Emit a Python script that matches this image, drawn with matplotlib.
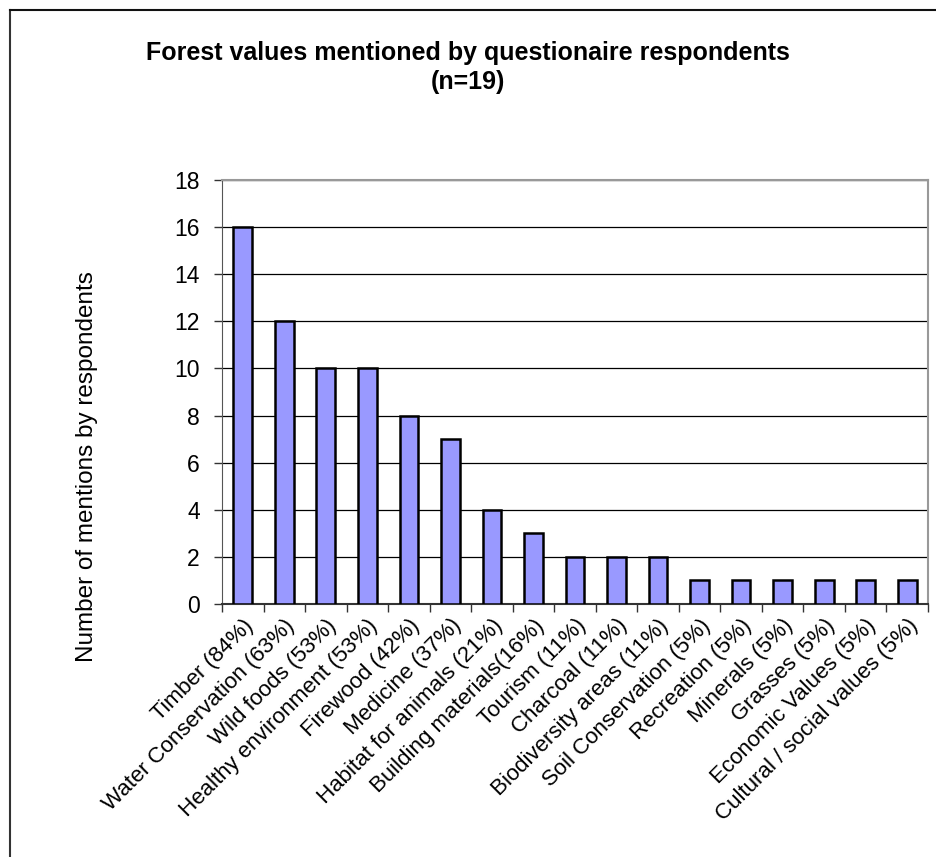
import matplotlib
matplotlib.use('Agg')
import matplotlib.pyplot as plt
from matplotlib.lines import Line2D
import numpy as np

plt.rcParams['font.family'] = ['Liberation Sans', 'DejaVu Sans']

values_names = ['Timber (84%)', 'Water Conservation (63%)', 'Wild foods (53%)',
                'Healthy environment (53%)', 'Firewood (42%)', 'Medicine (37%)',
                'Habitat for animals (21%)', 'Building materials(16%)', 'Tourism (11%)',
                'Charcoal (11%)', 'Biodiversity areas (11%)', 'Soil Conservation (5%)',
                'Recreation (5%)', 'Minerals (5%)', 'Grasses (5%)',
                'Economic Values (5%)', 'Cultural / social values (5%)']
mentions = [16, 12, 10, 10, 8, 7, 4, 3, 2, 2, 2, 1, 1, 1, 1, 1, 1]
y_ticks = [0, 2, 4, 6, 8, 10, 12, 14, 16, 18]

fig = plt.figure(figsize=(9.37, 8.57), dpi=100)
ax = fig.add_axes([0.2369, 0.2952, 0.7535, 0.4948])

x = np.arange(len(mentions))
ax.bar(x, mentions, width=0.45, color='#9999ff', edgecolor='black', linewidth=1.8, zorder=3)

ax.set_xlim(-0.5, len(mentions) - 0.5)
ax.set_ylim(0, 18)
ax.set_yticks(y_ticks)
ax.set_yticklabels([str(t) for t in y_ticks], fontsize=16.5)
ax.yaxis.grid(True, color='black', linewidth=0.9, zorder=0)

# category labels sit on the bar centres, tick marks on the category borders
ax.set_xticks(x)
ax.set_xticklabels(values_names, rotation=45, ha='right', va='top',
                   rotation_mode='anchor', fontsize=16)
ax.tick_params(axis='x', which='major', length=0, pad=8)
ax.set_xticks(np.arange(len(mentions) + 1) - 0.5, minor=True)
ax.tick_params(axis='x', which='minor', length=6, width=1, color='#333333', direction='out')
ax.tick_params(axis='y', length=6, width=1, color='#333333', direction='out', pad=10)

for side in ['top', 'right']:
	ax.spines[side].set_color('#999999')
	ax.spines[side].set_linewidth(1.5)
ax.spines['left'].set_color('#555555')
ax.spines['bottom'].set_color('#333333')
ax.spines['bottom'].set_linewidth(1.5)

ax.set_ylabel('Number of mentions by respondents', fontsize=17.5)
ax.yaxis.set_label_coords(-0.176, 0.325)

fig.text(0.4995, 1 - 60 / 857, 'Forest values mentioned by questionaire respondents',
         ha='center', va='baseline', fontsize=18, fontweight='bold')
fig.text(0.4995, 1 - 89 / 857, '(n=19)', ha='center', va='baseline',
         fontsize=18, fontweight='bold')

# chart frame (left and top edges)
fig.add_artist(Line2D([0.0107, 0.0107], [0.0, 0.9883], color='#333333', linewidth=1.5))
fig.add_artist(Line2D([0.0107, 1.0], [0.9883, 0.9883], color='#111111', linewidth=1.5))

plt.savefig('out.png', dpi=100)
plt.close()
